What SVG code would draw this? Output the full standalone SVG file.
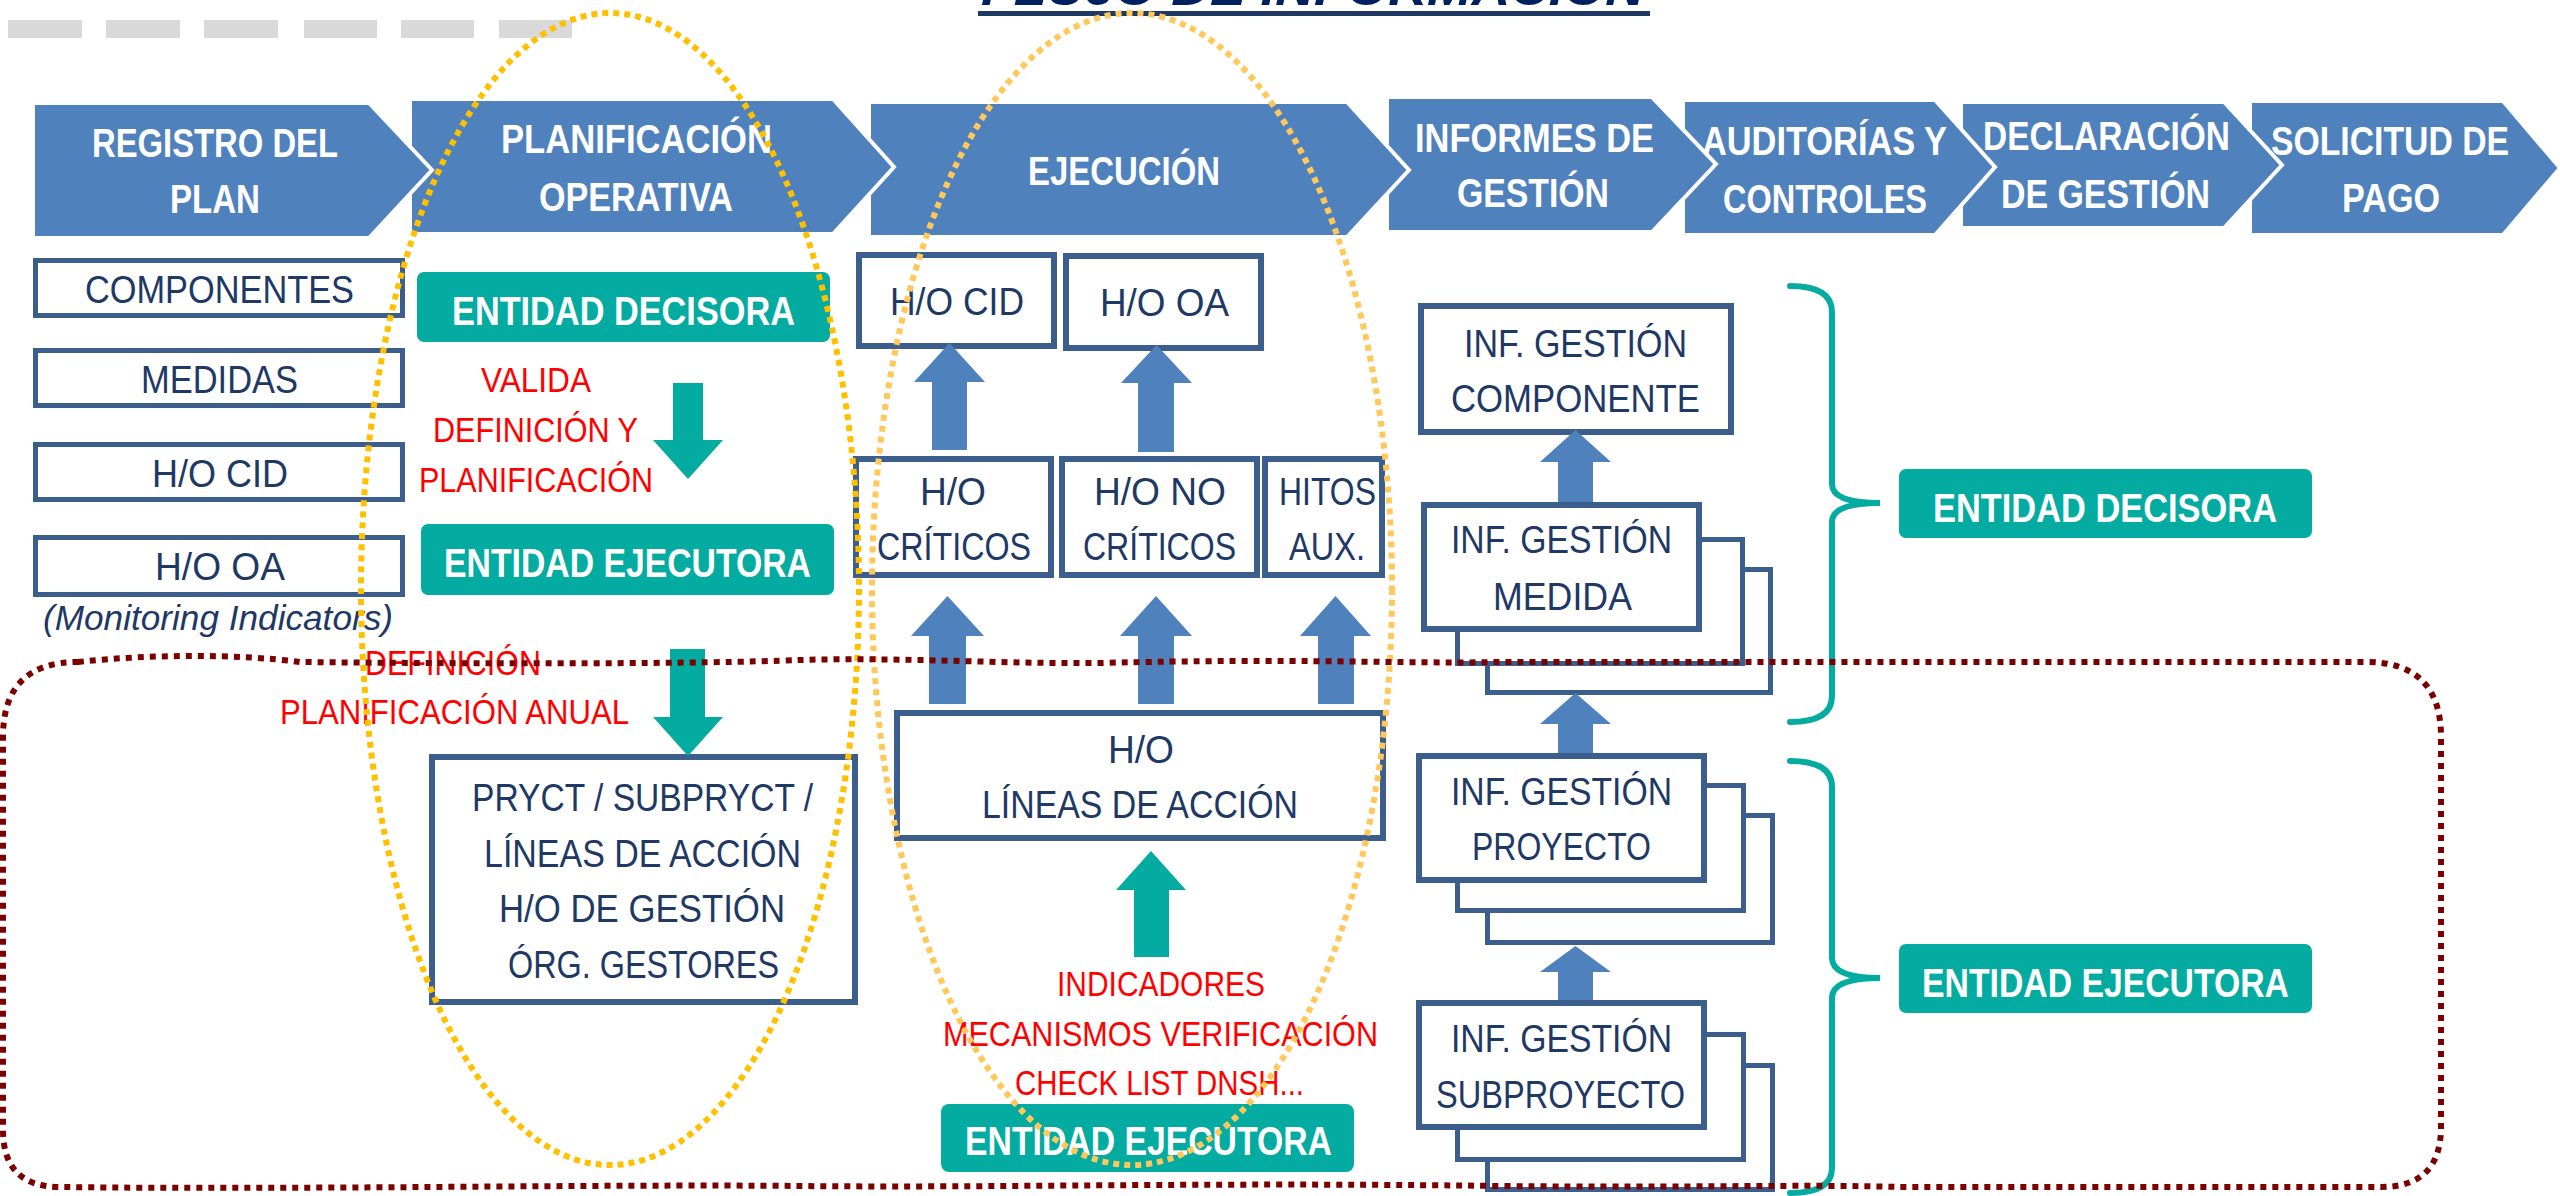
<svg xmlns="http://www.w3.org/2000/svg" width="2560" height="1196" viewBox="0 0 2560 1196">
<style>
text{font-family:"Liberation Sans Narrow","Liberation Sans",Arial,sans-serif}
.chev{fill:#4f81bd;stroke:#fff;stroke-width:4}
.w{fill:#fff;font-weight:bold;font-size:40px}
.bx{fill:#fff;stroke:#3b5e8c;stroke-width:5}
.bx6{fill:#fff;stroke:#3b5e8c;stroke-width:6}
.t{fill:#203864;font-size:39px}
.r{fill:#ff0000;font-size:35px}
.gb{fill:#04aba0}
.ba{fill:#4f81bd}
.ga{fill:#04aba0}
.brace{fill:none;stroke:#04aba0;stroke-width:6;stroke-linecap:round}
.dash{fill:#d9d9d9}
</style>
<rect width="2560" height="1196" fill="#fff"/>

<g id="decoration">
<rect class="dash" x="8" y="20" width="74" height="18"/>
<rect class="dash" x="106" y="20" width="74" height="18"/>
<rect class="dash" x="204" y="20" width="74" height="18"/>
<rect class="dash" x="304" y="20" width="73" height="18"/>
<rect class="dash" x="401" y="20" width="73" height="18"/>
<rect class="dash" x="499" y="20" width="73" height="18"/>
</g>

<g id="title">
<text x="981" y="5" font-size="48" font-weight="bold" font-style="italic" fill="#002060" textLength="663" lengthAdjust="spacingAndGlyphs">FLUJO DE INFORMACIÓN</text>
<rect x="978" y="11" width="672" height="5" fill="#1f3864"/>
</g>

<g id="chevron7"><polygon class="chev" points="2250,101 2503,101 2560,168 2503,235 2250,235"/>
<text class="w" x="2271" y="155" textLength="238" lengthAdjust="spacingAndGlyphs">SOLICITUD DE</text>
<text class="w" x="2342" y="212" textLength="98" lengthAdjust="spacingAndGlyphs">PAGO</text></g>
<g id="chevron6"><polygon class="chev" points="1961,102 2224,102 2282,165 2224,228 1961,228"/>
<text class="w" x="1983" y="150" textLength="247" lengthAdjust="spacingAndGlyphs">DECLARACIÓN</text>
<text class="w" x="2001" y="208" textLength="209" lengthAdjust="spacingAndGlyphs">DE GESTIÓN</text></g>
<g id="chevron5"><polygon class="chev" points="1683,100 1935,100 1995,167 1935,235 1683,235"/>
<text class="w" x="1702" y="155" textLength="245" lengthAdjust="spacingAndGlyphs">AUDITORÍAS Y</text>
<text class="w" x="1723" y="213" textLength="204" lengthAdjust="spacingAndGlyphs">CONTROLES</text></g>
<g id="chevron4"><polygon class="chev" points="1387,97 1652,97 1716,164 1652,232 1387,232"/>
<text class="w" x="1415" y="152" textLength="239" lengthAdjust="spacingAndGlyphs">INFORMES DE</text>
<text class="w" x="1457" y="207" textLength="152" lengthAdjust="spacingAndGlyphs">GESTIÓN</text></g>
<g id="chevron3"><polygon class="chev" points="869,102 1347,102 1409,170 1347,237 869,237"/>
<text class="w" x="1028" y="185" textLength="192" lengthAdjust="spacingAndGlyphs">EJECUCIÓN</text></g>
<g id="chevron2"><polygon class="chev" points="410,99 833,99 894,167 833,234 410,234"/>
<text class="w" x="501" y="153" textLength="271" lengthAdjust="spacingAndGlyphs">PLANIFICACIÓN</text>
<text class="w" x="539" y="211" textLength="194" lengthAdjust="spacingAndGlyphs">OPERATIVA</text></g>
<g id="chevron1"><polygon class="chev" points="33,103 369,103 432,170 369,238 33,238"/>
<text class="w" x="92" y="157" textLength="246" lengthAdjust="spacingAndGlyphs">REGISTRO DEL</text>
<text class="w" x="170" y="213" textLength="90" lengthAdjust="spacingAndGlyphs">PLAN</text></g>

<g id="componentes"><rect class="bx" x="35.5" y="260.5" width="367" height="55"/>
<text class="t" x="85" y="303" textLength="269" lengthAdjust="spacingAndGlyphs">COMPONENTES</text></g>
<g id="medidas"><rect class="bx" x="35.5" y="350.5" width="367" height="55"/>
<text class="t" x="141" y="393" textLength="157" lengthAdjust="spacingAndGlyphs">MEDIDAS</text></g>
<g id="ho-cid-left"><rect class="bx" x="35.5" y="444.5" width="367" height="55"/>
<text class="t" x="152" y="487" textLength="136" lengthAdjust="spacingAndGlyphs">H/O CID</text></g>
<g id="ho-oa-left"><rect class="bx" x="35.5" y="537.5" width="367" height="57"/>
<text class="t" x="155" y="580" textLength="130" lengthAdjust="spacingAndGlyphs">H/O OA</text></g>
<text x="43" y="630" font-size="35" font-style="italic" fill="#1f3864" textLength="350" lengthAdjust="spacingAndGlyphs">(Monitoring Indicators)</text>

<g id="entidad-decisora-1"><rect class="gb" x="417" y="272" width="413" height="70" rx="7"/>
<text class="w" x="452" y="325" font-size="39" textLength="343" lengthAdjust="spacingAndGlyphs">ENTIDAD DECISORA</text></g>
<g id="entidad-ejecutora-1"><rect class="gb" x="421" y="524" width="413" height="71" rx="7"/>
<text class="w" x="444" y="577" textLength="367" lengthAdjust="spacingAndGlyphs">ENTIDAD EJECUTORA</text></g>

<g id="label-valida">
<text class="r" x="481" y="392" textLength="110" lengthAdjust="spacingAndGlyphs">VALIDA</text>
<text class="r" x="433" y="442" textLength="205" lengthAdjust="spacingAndGlyphs">DEFINICIÓN Y</text>
<text class="r" x="419" y="492" textLength="234" lengthAdjust="spacingAndGlyphs">PLANIFICACIÓN</text>
</g>
<g id="label-definicion">
<text class="r" x="365" y="675" font-size="34" textLength="176" lengthAdjust="spacingAndGlyphs">DEFINICIÓN</text>
<text class="r" x="280" y="724" font-size="34" textLength="349" lengthAdjust="spacingAndGlyphs">PLANIFICACIÓN ANUAL</text>
</g>

<g id="pryct"><rect class="bx6" x="432" y="757" width="423" height="245"/>
<text class="t" x="472" y="811" font-size="40" textLength="341" lengthAdjust="spacingAndGlyphs">PRYCT / SUBPRYCT /</text>
<text class="t" x="484" y="867" font-size="40" textLength="317" lengthAdjust="spacingAndGlyphs">LÍNEAS DE ACCIÓN</text>
<text class="t" x="499" y="922" font-size="40" textLength="286" lengthAdjust="spacingAndGlyphs">H/O DE GESTIÓN</text>
<text class="t" x="508" y="978" font-size="40" textLength="271" lengthAdjust="spacingAndGlyphs">ÓRG. GESTORES</text></g>

<g id="ho-cid"><rect class="bx6" x="859" y="255" width="195" height="91"/>
<text class="t" x="890" y="315" textLength="134" lengthAdjust="spacingAndGlyphs">H/O CID</text></g>
<g id="ho-oa"><rect class="bx6" x="1066" y="256" width="195" height="92"/>
<text class="t" x="1100" y="316" textLength="129" lengthAdjust="spacingAndGlyphs">H/O OA</text></g>
<g id="ho-criticos"><rect class="bx6" x="856" y="459" width="195" height="116"/>
<text class="t" x="920" y="505" textLength="66" lengthAdjust="spacingAndGlyphs">H/O</text>
<text class="t" x="877" y="560" textLength="154" lengthAdjust="spacingAndGlyphs">CRÍTICOS</text></g>
<g id="ho-no-criticos"><rect class="bx6" x="1062" y="459" width="195" height="116"/>
<text class="t" x="1094" y="505" textLength="132" lengthAdjust="spacingAndGlyphs">H/O NO</text>
<text class="t" x="1083" y="560" textLength="153" lengthAdjust="spacingAndGlyphs">CRÍTICOS</text></g>
<g id="hitos-aux"><rect class="bx6" x="1265" y="459" width="117" height="116"/>
<text class="t" x="1279" y="505" textLength="97" lengthAdjust="spacingAndGlyphs">HITOS</text>
<text class="t" x="1289" y="560" textLength="76" lengthAdjust="spacingAndGlyphs">AUX.</text></g>
<g id="ho-lineas"><rect class="bx6" x="897" y="713" width="486" height="125"/>
<text class="t" x="1108" y="763" font-size="40" textLength="66" lengthAdjust="spacingAndGlyphs">H/O</text>
<text class="t" x="982" y="818" font-size="40" textLength="316" lengthAdjust="spacingAndGlyphs">LÍNEAS DE ACCIÓN</text></g>

<g id="label-indicadores">
<text class="r" x="1057" y="996" textLength="208" lengthAdjust="spacingAndGlyphs">INDICADORES</text>
<text class="r" x="943" y="1046" textLength="435" lengthAdjust="spacingAndGlyphs">MECANISMOS VERIFICACIÓN</text>
<text class="r" x="1015" y="1095" textLength="289" lengthAdjust="spacingAndGlyphs">CHECK LIST DNSH...</text>
</g>
<g id="entidad-ejecutora-2"><rect class="gb" x="941" y="1104" width="413" height="68" rx="8"/>
<text class="w" x="965" y="1155" font-size="39" textLength="367" lengthAdjust="spacingAndGlyphs">ENTIDAD EJECUTORA</text></g>

<g id="inf-componente"><rect class="bx6" x="1421" y="306" width="310" height="126"/>
<text class="t" x="1464" y="357" textLength="223" lengthAdjust="spacingAndGlyphs">INF. GESTIÓN</text>
<text class="t" x="1451" y="412" textLength="249" lengthAdjust="spacingAndGlyphs">COMPONENTE</text></g>
<g id="inf-medida">
<rect class="bx" x="1487.5" y="569.5" width="283" height="123"/>
<rect class="bx" x="1457.5" y="539.5" width="285" height="124"/>
<rect class="bx6" x="1424" y="505" width="275" height="124"/>
<text class="t" x="1451" y="553" textLength="221" lengthAdjust="spacingAndGlyphs">INF. GESTIÓN</text>
<text class="t" x="1493" y="610" textLength="139" lengthAdjust="spacingAndGlyphs">MEDIDA</text></g>
<g id="inf-proyecto">
<rect class="bx" x="1487.5" y="815.5" width="285" height="127"/>
<rect class="bx" x="1457.5" y="785.5" width="286" height="125"/>
<rect class="bx6" x="1419" y="756" width="285" height="124"/>
<text class="t" x="1451" y="805" textLength="221" lengthAdjust="spacingAndGlyphs">INF. GESTIÓN</text>
<text class="t" x="1472" y="860" textLength="179" lengthAdjust="spacingAndGlyphs">PROYECTO</text></g>
<g id="inf-subproyecto">
<rect class="bx" x="1487.5" y="1065.5" width="285" height="124"/>
<rect class="bx" x="1457.5" y="1034.5" width="286" height="125"/>
<rect class="bx6" x="1419" y="1003" width="285" height="124"/>
<text class="t" x="1451" y="1052" textLength="221" lengthAdjust="spacingAndGlyphs">INF. GESTIÓN</text>
<text class="t" x="1436" y="1108" textLength="249" lengthAdjust="spacingAndGlyphs">SUBPROYECTO</text></g>

<g id="entidad-decisora-2"><rect class="gb" x="1899" y="469" width="413" height="69" rx="7"/>
<text class="w" x="1933" y="522" textLength="344" lengthAdjust="spacingAndGlyphs">ENTIDAD DECISORA</text></g>
<g id="entidad-ejecutora-3"><rect class="gb" x="1899" y="944" width="413" height="69" rx="7"/>
<text class="w" x="1922" y="997" textLength="367" lengthAdjust="spacingAndGlyphs">ENTIDAD EJECUTORA</text></g>

<g id="connectors">
<polygon class="ga" points="673,383 703,383 703,440 723,440 688,479 653,440 673,440"/>
<polygon class="ga" points="670,649 705,649 705,717 723,717 688,756 653,717 670,717"/>
<polygon class="ga" points="1151,851 1186,890 1169,890 1169,957 1134,957 1134,890 1116,890"/>
<polygon class="ba" points="949.5,343 985,382 967,382 967,450 932,450 932,382 914,382"/>
<polygon class="ba" points="1156.5,345 1192,383 1174,383 1174,452 1138,452 1138,383 1121,383"/>
<polygon class="ba" points="947.5,596 984,636 966,636 966,704 929,704 929,636 911,636"/>
<polygon class="ba" points="1156,596 1192,636 1174,636 1174,704 1138,704 1138,636 1120,636"/>
<polygon class="ba" points="1335.5,596 1371,636 1354,636 1354,704 1318,704 1318,636 1300,636"/>
<polygon class="ba" points="1575.5,430 1611,462 1593,462 1593,502 1558,502 1558,462 1540,462"/>
<polygon class="ba" points="1575.5,693 1611,724 1593,724 1593,753 1558,753 1558,724 1540,724"/>
<polygon class="ba" points="1575.5,946 1611,972 1593,972 1593,1000 1558,1000 1558,972 1540,972"/>
<path class="brace" d="M1790,286 Q1832,286 1832,312 L1832,484 Q1832,503 1880,503 Q1832,503 1832,522 L1832,696 Q1832,722 1790,722"/>
<path class="brace" d="M1790,761 Q1832,761 1832,787 L1832,958 Q1832,978 1880,978 Q1832,978 1832,998 L1832,1168 Q1832,1193 1790,1193"/>
</g>

<g id="groupings" fill="none">
<ellipse cx="610" cy="589" rx="249" ry="576" stroke="#ffc000" stroke-width="6" stroke-dasharray="6 5"/>
<ellipse cx="1132" cy="589" rx="260" ry="576" stroke="#ffc85a" stroke-width="6" stroke-dasharray="6 5"/>
<path d="M78,662 C150,654 240,654 300,662 C500,664 700,664 800,660 C900,657 1000,664 1100,663 C1300,658 1400,664 1500,662 L2366,662 Q2441,662 2441,737 L2441,1127 Q2441,1187 2381,1187 L1900,1187 C1800,1184 1700,1188 1500,1186 C1200,1182 1000,1188 800,1186 C600,1184 300,1190 60,1187 Q3,1187 3,1130 L3,737 Q3,662 78,662 Z" stroke="#7b0000" stroke-width="6" stroke-dasharray="6 6"/>
</g>
</svg>
